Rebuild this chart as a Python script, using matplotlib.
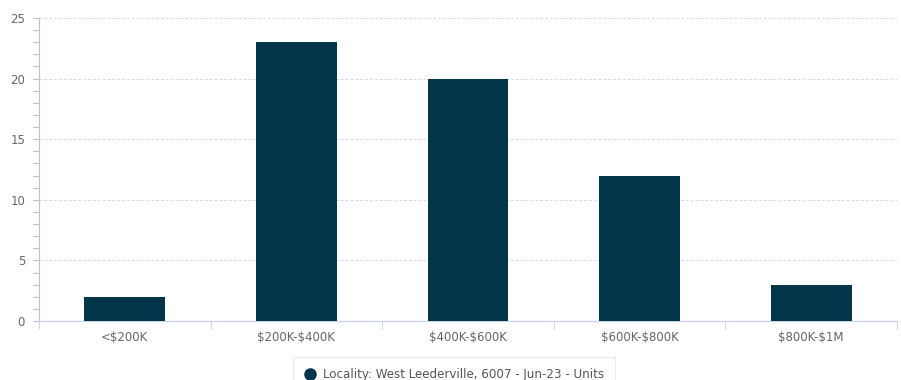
import matplotlib.pyplot as plt
from matplotlib.lines import Line2D
from matplotlib.ticker import MultipleLocator, FixedLocator, NullFormatter
import numpy as np

categories = ['<$200K', '$200K-$400K', '$400K-$600K', '$600K-$800K', '$800K-$1M']
values = [2, 23, 20, 12, 3]
series_label = 'Locality: West Leederville, 6007 - Jun-23 - Units'

bar_color = '#02344a'
grid_color = '#d3dae6'
text_color = '#666666'

fig = plt.figure(figsize=(9.01, 3.80), dpi=100)
ax = fig.add_axes([39 / 901, 1 - 321 / 380, (897 - 39) / 901, (321 - 18) / 380])

x = np.arange(len(categories))
ax.bar(x, values, width=0.47, color=bar_color, zorder=3)

ax.set_xlim(-0.5, len(categories) - 0.5)
ax.set_ylim(0, 25)

# y axis: majors every 5, minors every 1
ax.yaxis.set_major_locator(MultipleLocator(5))
ax.yaxis.set_minor_locator(MultipleLocator(1))
ax.tick_params(axis='y', which='both', length=4, width=0.8, color='#c0c0c0',
               labelsize=8.5, labelcolor=text_color, pad=6)
ax.grid(axis='y', which='major', color=grid_color, linestyle=(0, (3, 2)), linewidth=0.7, zorder=0)

# x axis: ticks at category boundaries, labels at centers
ax.xaxis.set_major_locator(FixedLocator(np.arange(len(categories) + 1) - 0.5))
ax.xaxis.set_major_formatter(NullFormatter())
ax.xaxis.set_minor_locator(FixedLocator(x))
ax.set_xticklabels(categories, minor=True)
ax.tick_params(axis='x', which='major', length=6, width=0.8, color='#ccd6eb')
ax.tick_params(axis='x', which='minor', length=0, labelsize=8.5, labelcolor=text_color, pad=7)
# labels contain "$" so switch off mathtext
for lbl in ax.get_xticklabels(minor=True):
    lbl.set_parse_math(False)

for side in ['top', 'right']:
    ax.spines[side].set_visible(False)
ax.spines['left'].set_color('#c0c0c0')
ax.spines['left'].set_linewidth(0.8)
ax.spines['bottom'].set_color('#ccd6eb')
ax.spines['bottom'].set_linewidth(1.0)

handle = Line2D([], [], marker='o', linestyle='none', markersize=8,
                markerfacecolor=bar_color, markeredgecolor=bar_color)
leg = fig.legend([handle], [series_label], loc='upper center',
                 bbox_to_anchor=(454 / 901, 1 - 357 / 380), borderaxespad=0,
                 fontsize=8.6, frameon=True, fancybox=False, handletextpad=0.6,
                 borderpad=0.9, handlelength=1.0)
leg.get_frame().set_edgecolor('#e6e6e6')
leg.get_frame().set_linewidth(0.8)
for t in leg.get_texts():
    t.set_color('#555555')

fig.savefig('out.png', dpi=100)
